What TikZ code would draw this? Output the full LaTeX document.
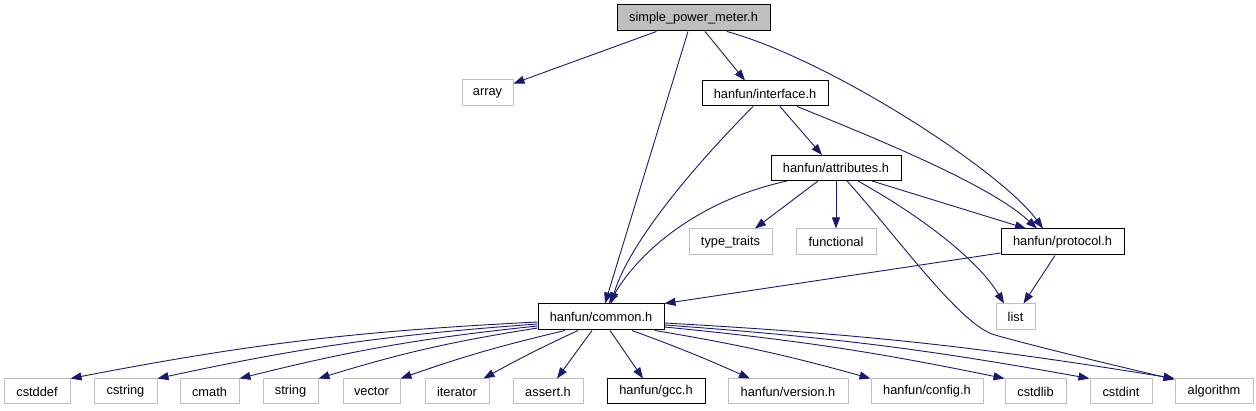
\documentclass[tikz,border=0pt]{standalone}
\usepackage{fontspec}
\setmainfont{Liberation Sans}
\usetikzlibrary{arrows.meta}
\definecolor{edgeblue}{HTML}{191970}
\definecolor{extgray}{HTML}{BFBFBF}
\tikzset{
  box/.style={draw=black, line width=1pt, fill=white, rectangle, inner sep=0pt,
    minimum height=26pt, font=\fontsize{12.8}{15}\selectfont},
  extbox/.style={box, draw=extgray},
  rootbox/.style={box, fill=extgray},
  dep/.style={draw=edgeblue, line width=0.9pt, -{Triangle[length=11pt,width=8pt]}},
}
\begin{document}
\begin{tikzpicture}[x=1pt,y=-1pt]
\useasboundingbox (0,0) rectangle (1256,411);
% nodes
\node[rootbox, minimum width=153pt] (spm) at (693.5,18) {simple\_power\_meter.h};
\node[extbox, minimum width=51pt] (array) at (487.5,93) {array};
\node[box, minimum width=126pt, minimum height=25pt] (iface) at (765,93.5) {hanfun/interface.h};
\node[box, minimum width=130pt, minimum height=25pt] (attr) at (836,168) {hanfun/attributes.h};
\node[extbox, minimum width=83pt] (tt) at (730.5,242) {type\_traits};
\node[extbox, minimum width=80pt] (func) at (836,242) {functional};
\node[box, minimum width=123pt] (proto) at (1062.5,242) {hanfun/protocol.h};
\node[box, minimum width=126pt] (common) at (601,317) {hanfun/common.h};
\node[extbox, minimum width=39pt] (list) at (1015.5,317) {list};
% bottom row
\node[extbox, minimum width=66pt, minimum height=25pt] (cstddef) at (37,391.5) {cstddef};
\node[extbox, minimum width=63pt, minimum height=25pt] (cstring) at (125.5,391.5) {cstring};
\node[extbox, minimum width=59pt, minimum height=25pt] (cmath) at (209.5,391.5) {cmath};
\node[extbox, minimum width=55pt, minimum height=25pt] (string) at (290.5,391.5) {string};
\node[extbox, minimum width=57pt, minimum height=25pt] (vector) at (371.5,391.5) {vector};
\node[extbox, minimum width=64pt, minimum height=25pt] (iterator) at (457,391.5) {iterator};
\node[extbox, minimum width=70pt, minimum height=25pt] (assert) at (548,391.5) {assert.h};
\node[box, minimum width=98pt, minimum height=25pt] (gcc) at (656,391.5) {hanfun/gcc.h};
\node[extbox, minimum width=120pt, minimum height=25pt] (version) at (788,391.5) {hanfun/version.h};
\node[extbox, minimum width=112pt, minimum height=25pt] (config) at (927,391.5) {hanfun/config.h};
\node[extbox, minimum width=61pt, minimum height=25pt] (cstdlib) at (1035.5,391.5) {cstdlib};
\node[extbox, minimum width=62pt, minimum height=25pt] (cstdint) at (1121,391.5) {cstdint};
\node[extbox, minimum width=78pt, minimum height=25pt] (algorithm) at (1214,391.5) {algorithm};
% edges from simple_power_meter.h
\draw[dep] (spm) -- (array);
\draw[dep] ([xshift=-5.5pt]spm.south) -- ([xshift=4pt]common.north);
\draw[dep] ([xshift=11.5pt]spm.south) -- ([xshift=-20pt]iface.north);
\draw[dep] ([xshift=33.5pt]spm.south) .. controls (830,60) and (1000,170) .. ([xshift=-19.5pt]proto.north);
% edges from interface.h
\draw[dep] ([xshift=-12pt]iface.south) .. controls (700,160) and (630,240) .. ([xshift=10pt]common.north);
\draw[dep] ([xshift=15pt]iface.south) -- ([xshift=-14pt]attr.north);
\draw[dep] ([xshift=32pt]iface.south) .. controls (880,140) and (990,185) .. ([xshift=-25.5pt]proto.north);
% edges from attributes.h
\draw[dep] ([xshift=-49pt]attr.south) .. controls (700,200) and (640,250) .. ([xshift=8pt]common.north);
\draw[dep] ([xshift=-18pt]attr.south) -- ([xshift=24.5pt]tt.north);
\draw[dep] (attr.south) -- (func.north);
\draw[dep] ([xshift=36pt]attr.south) -- ([xshift=-36.5pt]proto.north);
\draw[dep] ([xshift=22pt]attr.south) .. controls (910,210) and (975,255) .. ([xshift=-11.5pt]list.north);
\draw[dep] ([xshift=11pt]attr.south) .. controls (900,240) and (960,325) .. (995,335)
  .. controls (1030,345) and (1100,362) .. ([yshift=-1pt]algorithm.north west);
% edges from protocol.h
\draw[dep] ([yshift=-11pt]proto.west) -- (common.north east);
\draw[dep] ([xshift=-7.5pt]proto.south) -- ([xshift=8pt]list.north);
% edges from common.h
\draw[dep] ([yshift=-5pt]common.west) to[bend right=4] (cstddef.north east);
\draw[dep] ([yshift=-7pt]common.west) to[bend right=4] (cstring.north east);
\draw[dep] ([yshift=-9pt]common.west) to[bend right=4] (cmath.north east);
\draw[dep] ([yshift=-11pt]common.west) to[bend right=4] (string.north east);
\draw[dep] ([xshift=-36pt]common.south) to[bend right=3] (vector.north east);
\draw[dep] ([xshift=-23pt]common.south) to[bend right=2] ([xshift=-6pt]iterator.north east);
\draw[dep] ([xshift=-9pt]common.south) -- ([xshift=9pt]assert.north);
\draw[dep] ([xshift=9pt]common.south) -- ([xshift=-13pt]gcc.north);
\draw[dep] ([xshift=31pt]common.south) to[bend left=2] ([xshift=-38pt]version.north);
\draw[dep] ([xshift=54pt]common.south) to[bend left=3] (config.north west);
\draw[dep] ([yshift=-10pt]common.east) to[bend left=3] (cstdlib.north west);
\draw[dep] ([yshift=-8pt]common.east) to[bend left=3] (cstdint.north west);
\draw[dep] ([yshift=-6pt]common.east) to[bend left=3] (algorithm.north west);
\end{tikzpicture}
\end{document}
